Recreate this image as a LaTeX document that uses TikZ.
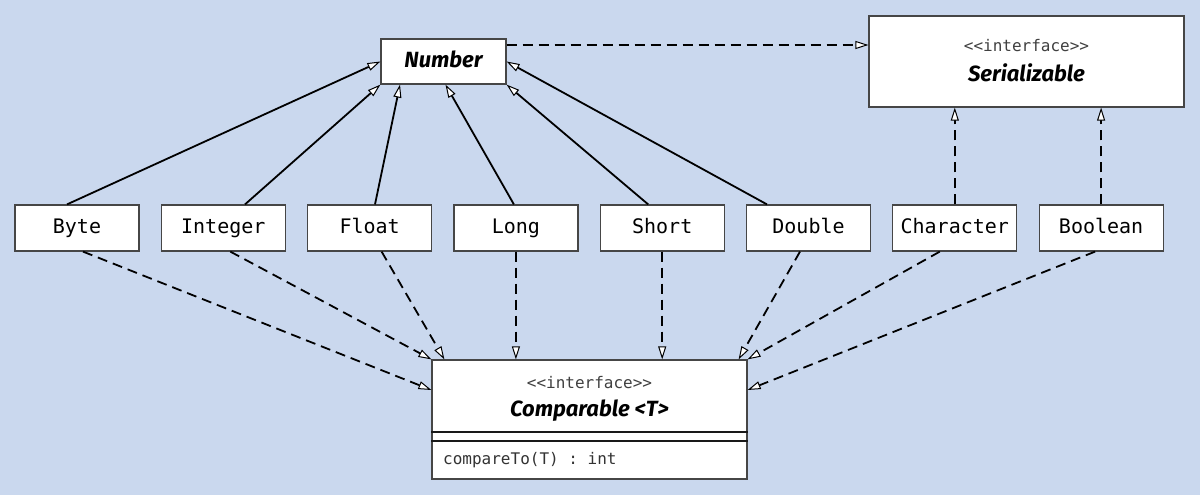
\documentclass[tikz,border=0pt]{standalone}
\usepackage{fontspec}
\setsansfont{Fira Sans}
\setmonofont{DejaVu Sans Mono}
\usetikzlibrary{arrows.meta}
\definecolor{bgblue}{RGB}{202,216,238}
\definecolor{boxline}{RGB}{70,70,70}

\begin{document}
\begin{tikzpicture}[x=1pt, y=-1pt,
    cls/.style={draw=boxline, line width=1.2pt, fill=white, minimum width=124pt,
        minimum height=46pt, inner sep=0pt, text height=15pt, text depth=4pt,
        font=\fontsize{20}{22}\selectfont\ttfamily},
    title/.style={font=\fontsize{22}{24}\selectfont\sffamily\bfseries\itshape, inner sep=0pt},
    stereo/.style={font=\fontsize{16}{18}\selectfont\ttfamily, text=black!75, inner sep=0pt},
    extends/.style={line width=1.8pt,
        -{Triangle[length=13pt, width=8pt, fill=white, line width=1pt]}},
    realizes/.style={extends, dash pattern=on 10pt off 6pt}]

    % background and page size
    \fill[bgblue] (0,0) rectangle (1200,495);
    \useasboundingbox (0,0) rectangle (1200,495);

    % --- Interfaces and the abstract class ---
    \node[cls, title, minimum width=125pt, minimum height=45pt] (number) at (443.5,61.5) {Number};
    \node[cls, minimum width=315pt, minimum height=91pt] (ser) at (1026.5,61.5) {};
    \node[stereo] (serst) at (1026.5,46) {<<interface>>};
    \node[title] (sertitle) at (1026.5,73) {Serializable};

    \node[cls, minimum width=315pt, minimum height=119pt] (comp) at (589.5,419.5) {};
    \node[stereo] (compst) at (589.5,383) {<<interface>>};
    \node[title] (comptitle) at (589.5,411) {Comparable <T>};
    \node[stereo, text=black!80, anchor=west] (compop) at (443,460) {compareTo(T) : int};
    \draw[draw=black!90, line width=2pt] ([yshift=48pt]comp.south west) -- ([yshift=48pt]comp.south east);
    \draw[draw=black!90, line width=2pt] ([yshift=39pt]comp.south west) -- ([yshift=39pt]comp.south east);

    % --- Wrapper classes ---
    \node[cls] (byte) at (77,228) {Byte};
    \node[cls] (integer) at (223.3,228) {Integer};
    \node[cls] (float) at (369.6,228) {Float};
    \node[cls] (long) at (515.9,228) {Long};
    \node[cls] (short) at (662.2,228) {Short};
    \node[cls] (double) at (808.5,228) {Double};
    \node[cls] (character) at (954.8,228) {Character};
    \node[cls] (boolean) at (1101.1,228) {Boolean};

    % --- Generalisation to Number ---
    \draw[extends] ([xshift=-10pt]byte.north) -- (number.west);
    \draw[extends] ([xshift=21.7pt]integer.north) -- (number.south west);
    \draw[extends] ([xshift=5.4pt]float.north) -- ([xshift=-43.5pt]number.south);
    \draw[extends] ([xshift=-2pt]long.north) -- ([xshift=2pt]number.south);
    \draw[extends] ([xshift=-14pt]short.north) -- (number.south east);
    \draw[extends] ([xshift=-41.5pt]double.north) -- (number.east);

    % --- Realisation of Serializable ---
    \draw[realizes] ([yshift=16.5pt]number.east) -- ([yshift=16.5pt]ser.west);
    \draw[realizes] (character.north) -- (character.north |- ser.south);
    \draw[realizes] (boolean.north) -- (boolean.north |- ser.south);

    % --- Realisation of Comparable ---
    \draw[realizes] ([xshift=6pt]byte.south) -- ([yshift=29.5pt]comp.west);
    \draw[realizes] ([xshift=7pt]integer.south) -- (comp.north west);
    \draw[realizes] ([xshift=12pt]float.south) -- ([xshift=13pt]comp.north west);
    \draw[realizes] (long.south) -- (long.south |- comp.north);
    \draw[realizes] (short.south) -- (short.south |- comp.north);
    \draw[realizes] ([xshift=-8.5pt]double.south) -- ([xshift=-9pt]comp.north east);
    \draw[realizes] ([xshift=-15pt]character.south) -- (comp.north east);
    \draw[realizes] ([xshift=-6pt]boolean.south) -- ([yshift=29.5pt]comp.east);

\end{tikzpicture}
\end{document}
